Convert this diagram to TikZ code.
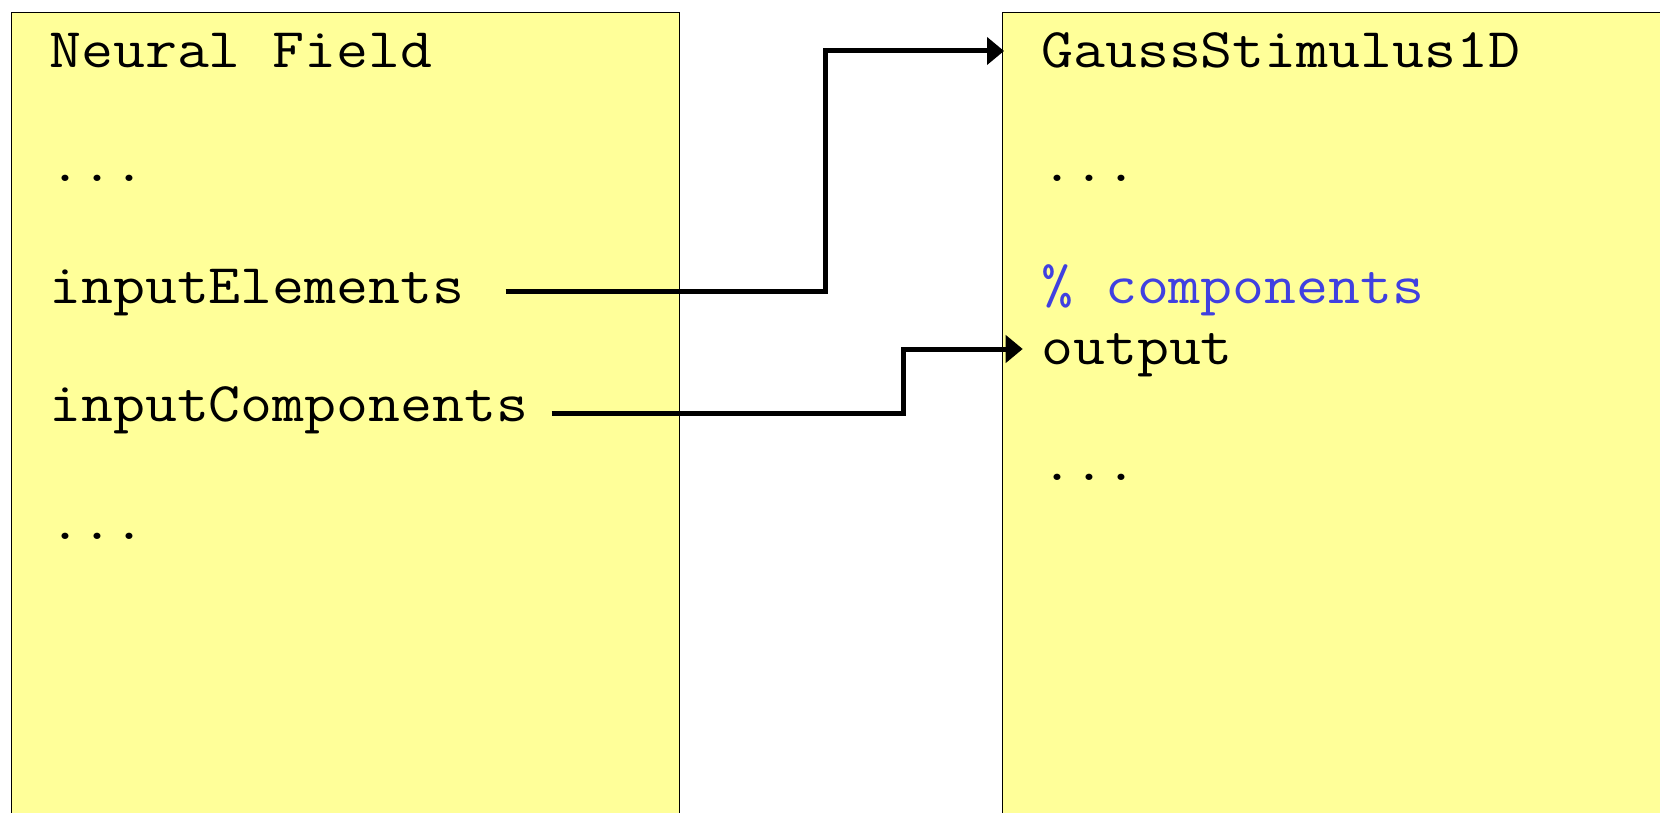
\documentclass[tikz,border=0pt]{standalone}
\usepackage{fontspec}
\setmonofont{Latin Modern Mono}[FakeStretch=1.108]
\usetikzlibrary{arrows.meta}
\definecolor{noteyellow}{HTML}{FFFF99}
\definecolor{commentblue}{HTML}{4040E0}

\begin{document}
\begin{tikzpicture}[x=1pt,y=-1pt,
  panel/.style={draw=black, line width=1.6pt, fill=noteyellow,
    rectangle, inner sep=0pt, anchor=north west},
  code/.style={anchor=base west, inner sep=0pt,
    font=\ttfamily\fontsize{56}{64}\selectfont},
  comment/.style={code, text=commentblue},
  conn/.style={line width=5pt, line join=miter,
    -{Triangle[length=17pt,width=27pt]}}
]
\useasboundingbox (0,0) rectangle (1660,813);

% the two class panels (both run past the lower edge)
\node[panel, minimum width=668pt, minimum height=900pt] (nf) at (10.6,11.6) {};
\node[panel, minimum width=700pt, minimum height=900pt] (gs) at (1001.5,11.6) {};

% Neural Field listing
\node[code] (nfTitle) at (49,67.5) {Neural Field};
\node[code] (nfDots1) at (49,182) {...};
\node[code] (inE)     at (49,303) {inputElements};
\node[code] (inC)     at (49,421) {inputComponents};
\node[code] (nfDots2) at (49,539) {...};

% GaussStimulus1D listing
\node[code]    (gsTitle) at (1041,67.5) {GaussStimulus1D};
\node[code]    (gsDots1) at (1041,182)  {...};
\node[comment] (gsCmt)   at (1041,303)  {\% components};
\node[code]    (out)     at (1041,364)  {output};
\node[code]    (gsDots2) at (1041,480)  {...};

% connector end points
\coordinate (eStart) at (505.7,291);
\coordinate (eEnd)   at (1004,51);
\coordinate (cStart) at (551.6,413);
\coordinate (cEnd)   at (1022.7,349);

\draw[conn] (eStart) -- (825.7,291) -- (825.7,51) -- (eEnd);
\draw[conn] (cStart) -- (903,413) -- (903,349) -- (cEnd);
\end{tikzpicture}
\end{document}
